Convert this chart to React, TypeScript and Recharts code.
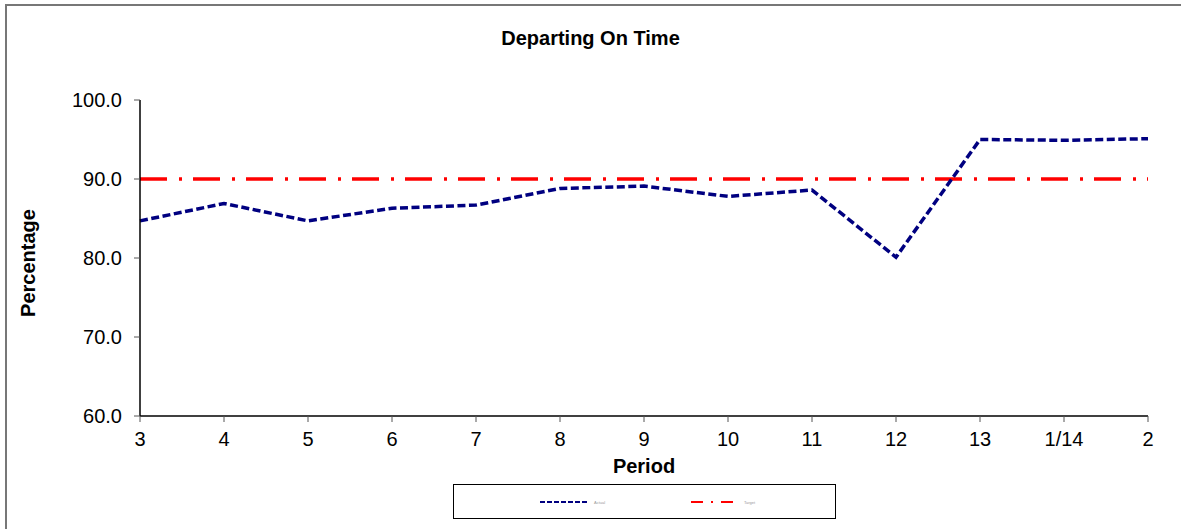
import { LineChart, Line, XAxis, YAxis, Label } from 'recharts'

const periods = ['3', '4', '5', '6', '7', '8', '9', '10', '11', '12', '13', '1/14', '2']
const actual = [84.7, 86.9, 84.7, 86.3, 86.7, 88.8, 89.1, 87.8, 88.6, 80.1, 95.0, 94.9, 95.1]
const target = [90, 90, 90, 90, 90, 90, 90, 90, 90, 90, 90, 90, 90]
const yTicks = [60, 70, 80, 90, 100]

const data = periods.map((p, i) => ({ period: p, Actual: actual[i], Target: target[i] }))

const font = 'Arial, "Liberation Sans", sans-serif'

function LegendBox() {
  return (
    <div
      style={{
        position: 'absolute',
        left: 453,
        top: 484,
        width: 381,
        height: 33,
        border: '1px solid #000',
        background: '#fff',
        fontFamily: font,
      }}
    >
      <svg width={381} height={33} style={{ position: 'absolute', left: 0, top: 0 }}>
        <line x1={86} y1={17} x2={135} y2={17} stroke="#000080" strokeWidth={2} strokeDasharray="5 2" />
        <text x={140} y={18.5} fontSize={4} fill="#999">Actual</text>
        <line x1={237} y1={17} x2={280} y2={17} stroke="#FF0000" strokeWidth={2} strokeDasharray="12 8 2 8" />
        <text x={290} y={18.5} fontSize={4} fill="#999">Target</text>
      </svg>
    </div>
  )
}

export default function App() {
  return (
    <div style={{ position: 'absolute', left: 0, top: 0, width: 1181, height: 529, background: '#fff', overflow: 'hidden' }}>
      <div
        style={{
          position: 'absolute',
          left: 5,
          top: 4,
          width: 1200,
          height: 600,
          borderLeft: '2px solid #777',
          borderTop: '2px solid #777',
        }}
      />
      <div
        style={{
          position: 'absolute',
          left: 0,
          top: 27,
          width: 1181,
          textAlign: 'center',
          fontFamily: font,
          fontWeight: 'bold',
          fontSize: 20,
        }}
      >
        Departing On Time
      </div>
      <LineChart
        width={1181}
        height={529}
        data={data}
        margin={{ top: 100, right: 33, left: 80, bottom: 83 }}
        style={{ position: 'absolute', left: 0, top: 0 }}
      >
        <XAxis
          dataKey="period"
          height={30}
          interval={0}
          axisLine={{ stroke: '#000', strokeWidth: 1.5 }}
          tickLine={{ stroke: '#555' }}
          tickSize={6}
          tick={{ fill: '#000', fontSize: 20, fontFamily: font }}
          tickMargin={10}
        >
          <Label
            value="Period"
            position="insideBottom"
            offset={-27}
            style={{ fontFamily: font, fontWeight: 'bold', fontSize: 20, fill: '#000' }}
          />
        </XAxis>
        <YAxis
          width={60}
          domain={[60, 100]}
          ticks={yTicks}
          interval={0}
          tickFormatter={(v: number) => v.toFixed(1)}
          axisLine={{ stroke: '#000', strokeWidth: 1.5 }}
          tickLine={{ stroke: '#555' }}
          tickSize={6}
          tickMargin={12}
          tick={{ fill: '#000', fontSize: 20, fontFamily: font }}
        >
          <Label
            value="Percentage"
            angle={-90}
            position="center"
            dx={-82}
            dy={5}
            style={{ fontFamily: font, fontWeight: 'bold', fontSize: 20, fill: '#000', textAnchor: 'middle' }}
          />
        </YAxis>
        <Line
          type="linear"
          dataKey="Target"
          stroke="#FF0000"
          strokeWidth={3.5}
          strokeDasharray="27 12 3 11"
          dot={false}
          activeDot={false}
          isAnimationActive={false}
        />
        <Line
          type="linear"
          dataKey="Actual"
          stroke="#000080"
          strokeWidth={3.5}
          strokeDasharray="8 3.5"
          dot={false}
          activeDot={false}
          isAnimationActive={false}
        />
      </LineChart>
      <LegendBox />
    </div>
  )
}
